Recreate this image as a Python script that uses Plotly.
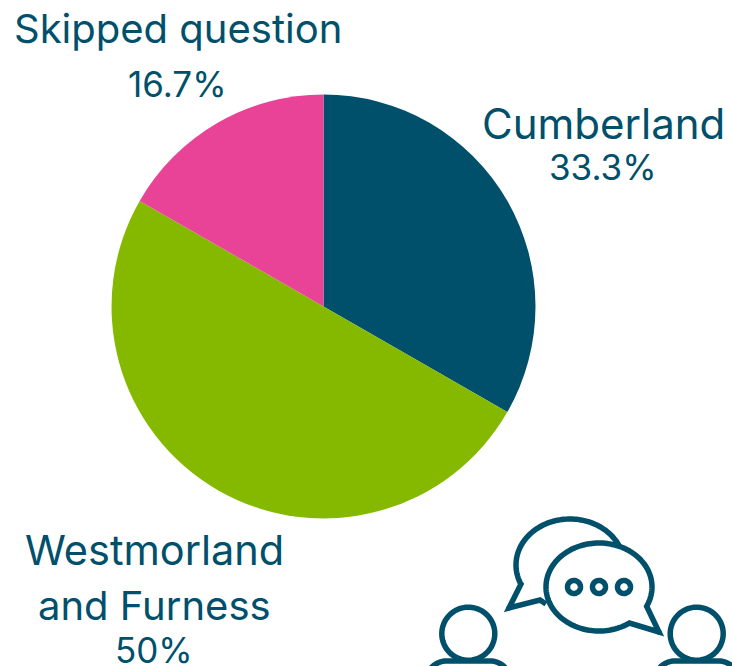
import numpy as np
import plotly.graph_objects as go

WIDTH, HEIGHT = 732, 666
INK = "#00506B"

# Share of respondents by area, clockwise from twelve o'clock
areas = ["Cumberland", "Westmorland and Furness", "Skipped question"]
shares = [33.3, 50, 16.7]
slice_colors = ["#00506B", "#84B900", "#E94397"]
share_labels = ["33.3%", "50%", "16.7%"]


def X(px):
    return px / WIDTH


def Y(py):
    return 1 - py / HEIGHT


def path(points, close=False):
    cmds = [f"{'M' if i == 0 else 'L'}{X(x):.5f},{Y(y):.5f}" for i, (x, y) in enumerate(points)]
    return " ".join(cmds) + (" Z" if close else "")


def arc(cx, cy, rx, ry, start, end, n=80):
    t = np.radians(np.linspace(start, end, n))
    return list(zip(cx + rx * np.cos(t), cy + ry * np.sin(t)))


def outline(points, fill="white", close=True, width=5.5):
    return dict(type="path", xref="paper", yref="paper", path=path(points, close),
                line=dict(color=INK, width=width), fillcolor=fill if close else "rgba(0,0,0,0)",
                layer="above")


def blob(x, y, r=2.75):
    return dict(type="path", xref="paper", yref="paper", path=path(arc(x, y, r, r, 0, 360, n=16), True),
                line=dict(width=0), fillcolor=INK, layer="above")


fig = go.Figure(go.Pie(
    labels=areas, values=shares, sort=False, direction="clockwise", rotation=0,
    marker=dict(colors=slice_colors, line=dict(width=0)),
    textinfo="none", hoverinfo="label+percent", showlegend=False,
    domain=dict(x=[X(323.5 - 212), X(323.5 + 212)], y=[Y(306.5 + 212), Y(306.5 - 212)]),
))

# Slice captions
captions = [
    ("Skipped question", 177.5, 29, 40),
    (share_labels[2], 177, 84, 35),
    (areas[0], 603, 123, 42),
    (share_labels[0], 603, 167, 35),
    ("Westmorland", 154, 550, 41.5),
    ("and Furness", 154, 605, 40),
    (share_labels[1], 154, 650, 35),
]
for text, x, y, size in captions:
    fig.add_annotation(text=text, x=X(x), y=Y(y), xref="paper", yref="paper",
                       xanchor="center", yanchor="middle", showarrow=False,
                       font=dict(family="Inter, Lato, sans-serif", size=size, color=INK))

# Conversation icon: two people and two speech bubbles
shapes = []

back = [(546, 604), (540, 600), (509, 608), (521, 584)] + arc(570, 565, 54, 46, 157, 336)
shapes.append(outline(back, close=False))
shapes.append(blob(509, 608))

front = arc(599, 587, 53, 44, 26, -305, n=140) + [(659, 632)]
shapes.append(outline(front))
shapes.append(blob(659, 632))

for cx in (574, 599, 624):
    shapes.append(outline(arc(cx, 587, 6.5, 6.5, 0, 360, n=40)))

for cx in (468.3, 696.7):
    shapes.append(outline(arc(cx, 633.7, 26.5, 26.5, 0, 360, n=80), fill="rgba(0,0,0,0)"))
    shoulder = arc(cx - 22, 681, 20, 20, 180, 270, n=20) + arc(cx + 22, 681, 20, 20, 270, 360, n=20)
    shapes.append(outline(shoulder, close=False))

fig.update_layout(width=WIDTH, height=HEIGHT, margin=dict(l=0, r=0, t=0, b=0),
                  paper_bgcolor="white", plot_bgcolor="white", shapes=shapes)
fig.write_html("out.html", config=dict(displayModeBar=False))
